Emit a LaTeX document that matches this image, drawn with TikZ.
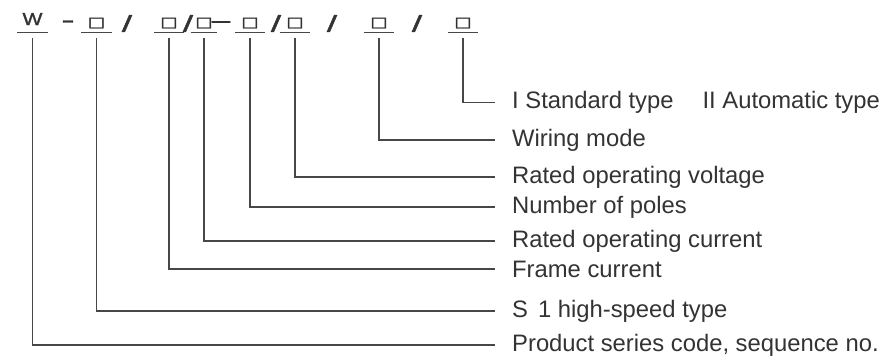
\documentclass[tikz,border=0pt]{standalone}
\usepackage{fontspec}
\setmainfont{Liberation Sans}
\newfontfamily\symfont[FakeBold=2]{DejaVu Sans}
\newfontfamily\codefont[FakeBold=1.2]{Liberation Sans}
\definecolor{txt}{HTML}{333333}
\definecolor{ln}{HTML}{474747}
\begin{document}
\begin{tikzpicture}[x=1pt,y=-1pt,
  every node/.style={text=txt, inner sep=0pt},
  code/.style={anchor=base, minimum width=#1, text depth=5.9pt},
  code/.default=30pt,
  sym/.style={anchor=base, font=\codefont\fontsize{24}{24}\selectfont},
  slash/.style={anchor=base, font=\codefont\fontsize{23}{23}\selectfont},
  uline/.style={draw=ln, line width=1.4pt},
  conn/.style={draw=ln, line width=1.4pt},
  lab/.style={anchor=west, inner xsep=17pt, font=\fontsize{23.8}{28}\selectfont}]
\useasboundingbox (0,0) rectangle (883,362);
\fill[white] (0,0) rectangle (883,362);
% code row
\newcommand{\bx}{\resizebox{17pt}{8.8pt}{\symfont □}}
\node[code, text depth=7.5pt] (c1) at (32.5,25) {\scalebox{1.22}[1]{\codefont\fontsize{17.3}{18}\selectfont W}};
\node[sym] (d1) at (68,27.9) {\scalebox{1.67}[1]{-}};
\node[code] (c2) at (96.5,26.6) {\bx};
\node[slash] (s1) at (127,31.7) {\scalebox{1.6}[1]{/}};
\node[code] (c3) at (169,26.6) {\bx};
\node[slash] (s2) at (188,31.7) {\scalebox{1.6}[1]{/}};
\node[code=26pt] (c4) at (204,26.6) {\bx};
\node[sym] (d2) at (221,28.1) {\scalebox{1.36}[1]{–}};
\node[code] (c5) at (250,26.6) {\bx};
\node[slash] (s3) at (276,31.7) {\scalebox{1.6}[1]{/}};
\node[code] (c6) at (295,26.6) {\bx};
\node[slash] (s4) at (332,31.7) {\scalebox{1.6}[1]{/}};
\node[code] (c7) at (379,26.6) {\bx};
\node[slash] (s5) at (417,31.7) {\scalebox{1.6}[1]{/}};
\node[code] (c8) at (463,26.6) {\bx};
\foreach \c in {c1,c2,c3,c4,c5,c6,c7,c8}
  \draw[uline] (\c.south west) -- (\c.south east);
% labels
\node[lab] (l8) at (495,102.7) {I Standard type\hspace{29pt}II Automatic type};
\node[lab] (l7) at (495,140) {Wiring mode};
\node[lab] (l6) at (495,177) {Rated operating voltage};
\node[lab] (l5) at (495,207) {Number of poles};
\node[lab] (l4) at (495,241) {Rated operating current};
\node[lab] (l3) at (495,269) {Frame current};
\node[lab] (l2) at (495,311) {S\hspace{10pt}1 high-speed type};
\node[lab] (l1) at (495,345) {Product series code, sequence no.};
% connectors
\foreach \i in {1,...,8}
  \draw[conn] ([yshift=-5.5pt]c\i.south) |- (l\i.west);
\end{tikzpicture}
\end{document}
